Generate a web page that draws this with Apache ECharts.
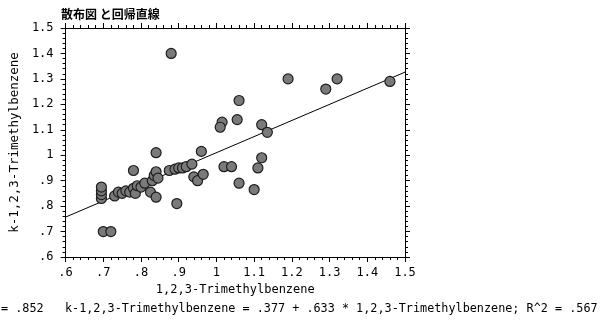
<!DOCTYPE html>
<html>
<head>
<meta charset="utf-8">
<script src="https://cdn.jsdelivr.net/npm/echarts@6/dist/echarts.min.js"></script>
<style>
  html, body { margin: 0; padding: 0; background: #fff; }
  #chart { width: 607px; height: 323px; }
</style>
</head>
<body>
<div id="chart"></div>
<script>
// 1,2,3-Trimethylbenzene (x) against k-1,2,3-Trimethylbenzene (y)
const xValues = [
  0.700, 0.720, 0.695, 0.695, 0.695, 0.695, 0.730, 0.740, 0.750, 0.760,
  0.770, 0.780, 0.785, 0.790, 0.800, 0.810, 0.780, 0.830, 0.835, 0.840,
  0.845, 0.840, 0.825, 0.840, 0.880, 0.875, 0.890, 0.900, 0.910, 0.920,
  0.935, 0.960, 0.940, 0.950, 0.965, 0.895, 1.015, 1.010, 1.055, 1.060,
  1.020, 1.040, 1.060, 1.100, 1.110, 1.120, 1.120, 1.135, 1.190, 1.290,
  1.320, 1.460
];
const yValues = [
  0.700, 0.700, 0.830, 0.845, 0.860, 0.875, 0.840, 0.855, 0.850, 0.860,
  0.855, 0.870, 0.850, 0.880, 0.875, 0.890, 0.940, 0.900, 0.920, 0.935,
  0.910, 1.010, 0.855, 0.835, 1.400, 0.940, 0.945, 0.950, 0.950, 0.955,
  0.965, 1.015, 0.915, 0.900, 0.925, 0.810, 1.130, 1.110, 1.140, 1.215,
  0.955, 0.955, 0.890, 0.865, 0.950, 0.990, 1.120, 1.090, 1.300, 1.260,
  1.300, 1.290
];

// Least-squares fit reported under the chart
const fitIntercept = 0.377;
const fitSlope = 0.633;
const fitR = '.852';
const fitR2 = '.567';

const xTickLabels = ['.6', '.7', '.8', '.9', '1', '1.1', '1.2', '1.3', '1.4', '1.5'];
const yTickLabels = ['.6', '.7', '.8', '.9', '1', '1.1', '1.2', '1.3', '1.4', '1.5'];

const axisMin = 0.6, axisMax = 1.5, axisStep = 0.1;
const titleText = '散布図 と回帰直線';
const xName = '1,2,3-Trimethylbenzene';
const yName = 'k-1,2,3-Trimethylbenzene';

const mono = '"DejaVu Sans Mono", "Liberation Mono", monospace';

function tickLabel(list) {
  return v => list[Math.round((v - axisMin) / axisStep)] ?? '';
}

const points = xValues.map((x, i) => [x, yValues[i]]);
const fitLine = [axisMin, axisMax].map(x => [x, fitIntercept + fitSlope * x]);

const lineStyle = { color: '#000', width: 1 };
function frameAxis(extra) {
  return Object.assign({
    type: 'value', min: axisMin, max: axisMax, interval: axisStep,
    axisLine: { show: true, onZero: false, lineStyle },
    axisTick: { show: true, inside: false, length: 5, lineStyle },
    minorTick: { show: true, splitNumber: 5, length: 3, lineStyle },
    splitLine: { show: false },
    minorSplitLine: { show: false }
  }, extra);
}

const chart = echarts.init(document.getElementById('chart'), null, { renderer: 'canvas' });
chart.setOption({
  animation: false,
  backgroundColor: '#fff',
  title: {
    text: titleText, left: 56, top: 3,
    textStyle: { fontFamily: '"Noto Sans CJK JP"', fontWeight: 'bold', fontSize: 12, color: '#000' }
  },
  grid: { left: 62, right: 202, top: 28, bottom: 66 },
  xAxis: [
    frameAxis({
      position: 'bottom',
      name: xName, nameLocation: 'middle', nameGap: 25,
      nameTextStyle: { fontFamily: mono, fontSize: 12, color: '#000' },
      axisLabel: { formatter: tickLabel(xTickLabels), fontFamily: mono, fontSize: 12, color: '#000', margin: 10 }
    }),
    frameAxis({ position: 'top', axisLabel: { show: false } })
  ],
  yAxis: [
    frameAxis({
      position: 'left',
      name: yName, nameLocation: 'middle', nameGap: 33, nameRotate: 90,
      nameTextStyle: { fontFamily: mono, fontSize: 12.5, color: '#000' },
      axisLabel: { formatter: tickLabel(yTickLabels), fontFamily: mono, fontSize: 12, color: '#000', margin: 12 }
    }),
    frameAxis({ position: 'right', axisLabel: { show: false } })
  ],
  series: [
    {
      type: 'line', data: fitLine, showSymbol: false, silent: true,
      lineStyle: { color: '#000', width: 1 }, z: 1
    },
    {
      type: 'scatter', data: points, symbol: 'circle', symbolSize: 10,
      itemStyle: { color: '#7a7a7a', borderColor: '#1e1e1e', borderWidth: 1.2, opacity: 1 },
      z: 2
    }
  ],
  graphic: [
    {
      type: 'text', left: 1, top: 303,
      style: {
        text: '= ' + fitR + '   ' + yName + ' = .' + String(fitIntercept).split('.')[1] +
              ' + .' + String(fitSlope).split('.')[1] + ' * ' + xName + '; R^2 = ' + fitR2,
        font: '11.8px ' + mono, fill: '#000'
      }
    }
  ]
});
</script>
</body>
</html>
